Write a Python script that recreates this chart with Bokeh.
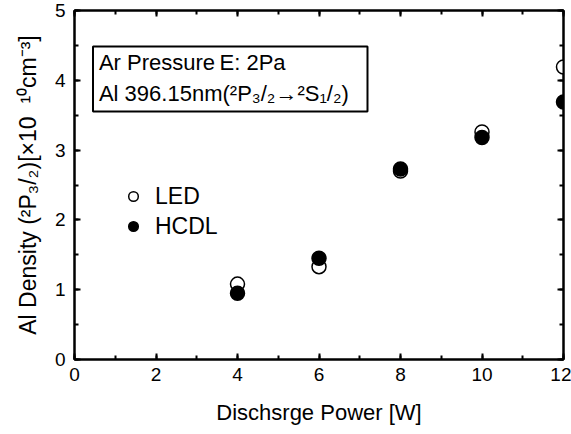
from bokeh.plotting import figure
from bokeh.models import (ColumnDataSource, Range1d, LinearAxis, FixedTicker,
                          Label, BoxAnnotation, Legend, LegendItem)
from bokeh.embed import file_html
from bokeh.resources import INLINE

power = [4, 6, 8, 10, 12]
led = [1.08, 1.33, 2.70, 3.26, 4.19]
hcdl = [0.95, 1.45, 2.73, 3.18, 3.69]
x_ticks = [0, 2, 4, 6, 8, 10, 12]
y_ticks = [0, 1, 2, 3, 4, 5]

FONT = "Liberation Sans"

p = figure(width=571, height=434, output_backend="svg", toolbar_location=None,
           x_range=Range1d(0, 12), y_range=Range1d(0, 5),
           min_border_left=74, min_border_right=8, min_border_top=10, min_border_bottom=75)
p.grid.visible = False
p.outline_line_color = "black"
p.outline_line_width = 2
p.outline_line_alpha = 1
p.background_fill_color = "white"
p.border_fill_color = "white"

def style_axis(ax):
    ax.axis_line_width = 2
    ax.axis_line_color = "black"
    ax.major_tick_in = 6
    ax.major_tick_out = 0
    ax.minor_tick_in = 4
    ax.minor_tick_out = 0
    ax.major_tick_line_width = 2
    ax.minor_tick_line_width = 2
    ax.major_tick_line_color = "black"
    ax.minor_tick_line_color = "black"

for ax in (p.xaxis[0], p.yaxis[0]):
    style_axis(ax)
    ax.major_label_text_font = FONT
    ax.major_label_text_font_size = "19px"
    ax.major_label_text_color = "black"
    ax.axis_label_text_font = FONT
    ax.axis_label_text_font_size = "22px"
    ax.axis_label_text_font_style = "normal"
    ax.axis_label_text_color = "black"

p.xaxis[0].ticker = FixedTicker(ticks=x_ticks, minor_ticks=list(range(0, 13)))
p.yaxis[0].ticker = FixedTicker(ticks=y_ticks, minor_ticks=[i * 0.5 for i in range(11)])
p.xaxis[0].axis_label = "Dischsrge Power [W]"
p.yaxis[0].axis_label = "Al Density (²P₃/₂)[×10\u00a0\u00a0¹⁰cm⁻³]"
p.yaxis[0].axis_label_text_font_size = "23px"
p.xaxis[0].major_label_standoff = 8
p.yaxis[0].major_label_standoff = 9
p.xaxis[0].axis_label_standoff = 16
p.yaxis[0].axis_label_standoff = 11

for loc, ticker in (("right", FixedTicker(ticks=y_ticks, minor_ticks=[i * 0.5 for i in range(11)])),
                    ("above", FixedTicker(ticks=x_ticks, minor_ticks=list(range(0, 13))))):
    a = LinearAxis(ticker=ticker)
    style_axis(a)
    a.major_label_overrides = {t: "" for t in ticker.ticks}
    a.major_label_standoff = 0
    p.add_layout(a, loc)

src = ColumnDataSource(dict(x=power, led=led, hcdl=hcdl))
r_led = p.scatter("x", "led", source=src, size=14, marker="circle",
                  fill_color="white", line_color="black", line_width=1.5)
r_hcdl = p.scatter("x", "hcdl", source=src, size=14, marker="circle",
                   fill_color="black", line_color="black", line_width=1.5)

legend = Legend(items=[LegendItem(label="LED", renderers=[r_led]),
                       LegendItem(label="HCDL", renderers=[r_hcdl])],
                location=(47, 119), border_line_color=None, background_fill_alpha=0,
                padding=0, margin=0, spacing=2, glyph_width=24, glyph_height=28,
                label_standoff=10, label_text_font=FONT, label_text_font_size="23px",
                label_text_color="black", label_height=28)
p.add_layout(legend, "center")

box = BoxAnnotation(left=0.454, right=7.19, top=4.484, bottom=3.553,
                    fill_color="white", fill_alpha=1, line_color="black",
                    line_alpha=1, line_width=2)
p.add_layout(box)
p.add_layout(Label(x=0.60, y=4.248, text="Ar Pressure\u2009E: 2Pa", text_font=FONT,
                   text_font_size="22px", text_color="black", text_baseline="middle"))
p.add_layout(Label(x=0.60, y=3.818, text="Al 396.15nm(²P₃/₂→²S₁/₂)", text_font=FONT,
                   text_font_size="22px", text_color="black", text_baseline="middle"))

open("out.html", "w").write(file_html(p, INLINE))
